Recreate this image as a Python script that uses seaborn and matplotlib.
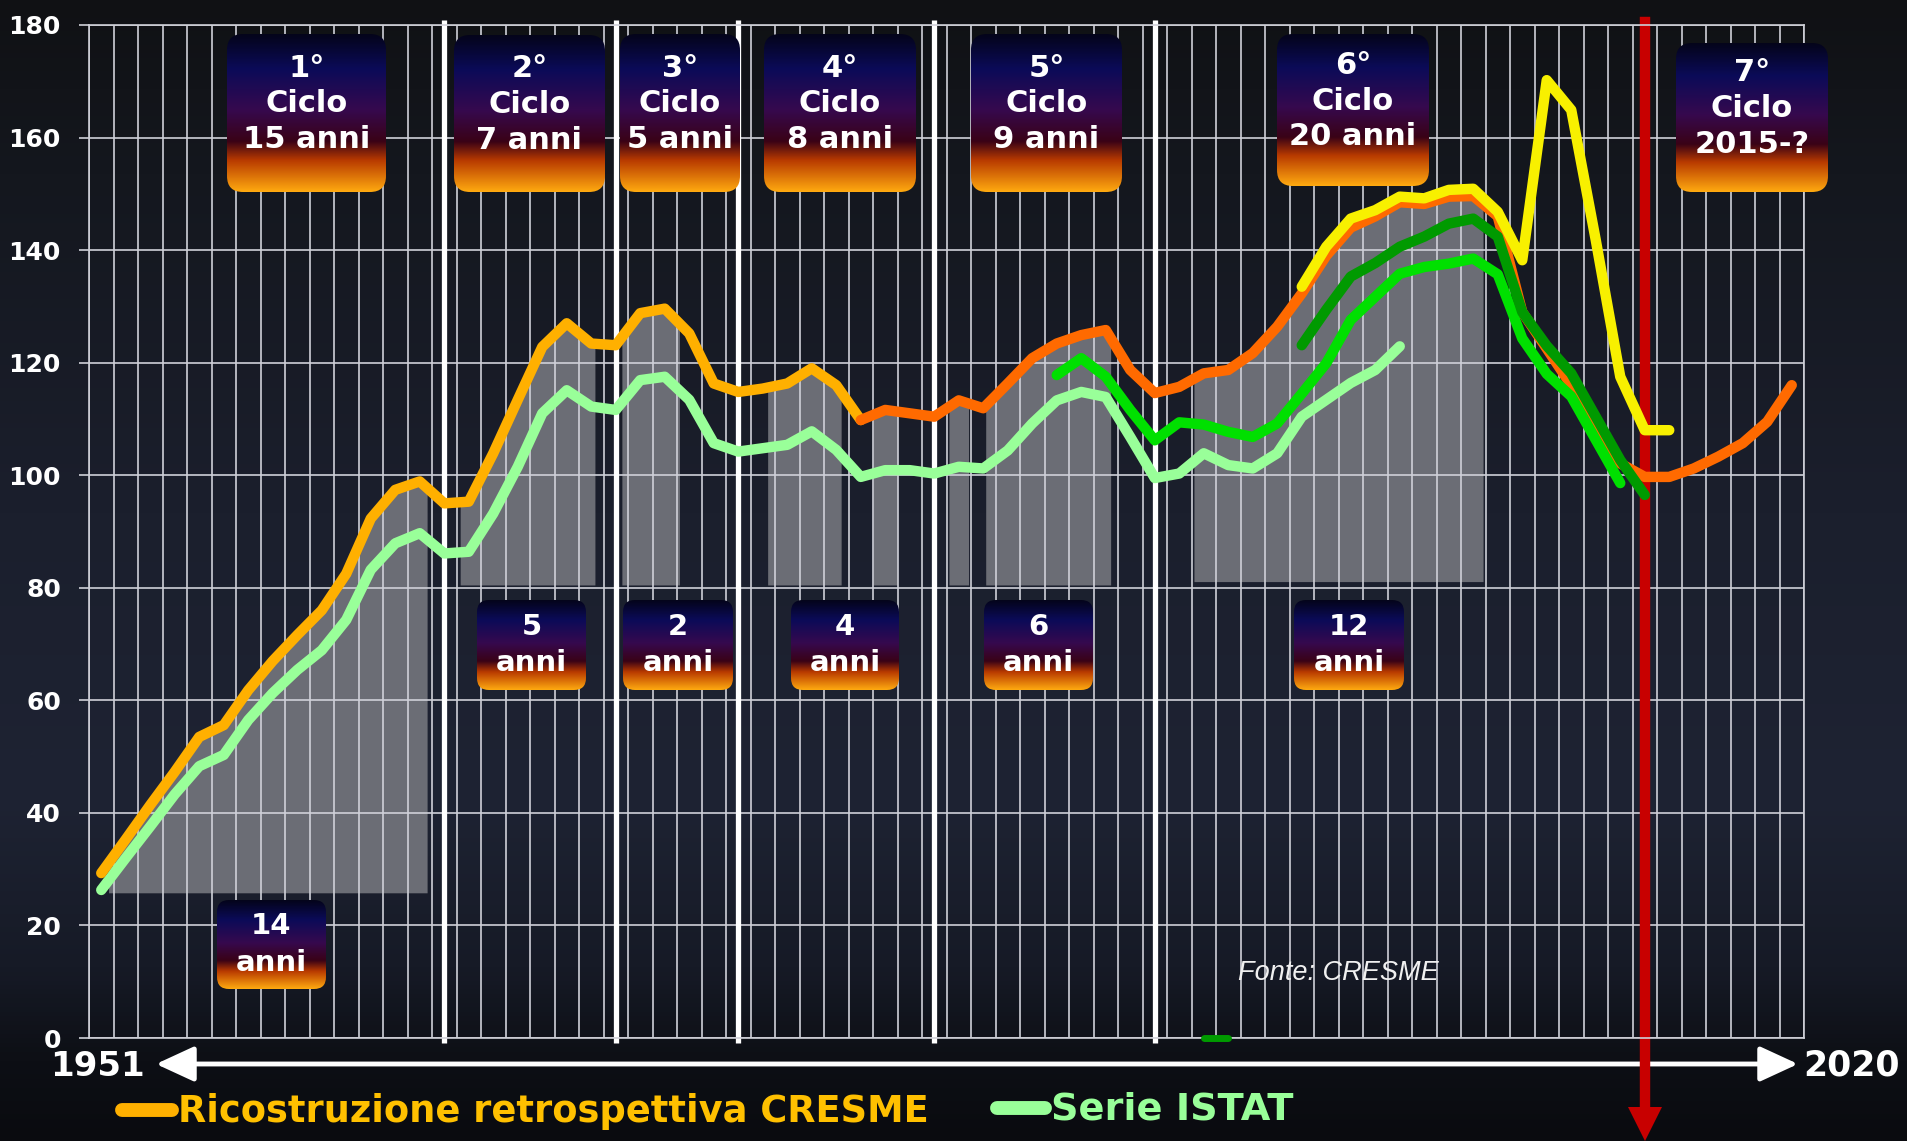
import numpy as np
import matplotlib
matplotlib.use("Agg")
import matplotlib.pyplot as plt
import seaborn as sns
from matplotlib.patches import FancyBboxPatch
from matplotlib.colors import LinearSegmentedColormap

# ==========================================
# Data
# ==========================================

# CRESME retrospective reconstruction, first part (amber)
cresme_years = list(range(1951, 1983))
cresme_vals = [29.3, 35.3, 41.4, 47.3, 53.5, 55.6, 61.8, 67.0, 71.6, 76.0,
               82.5, 92.3, 97.4, 98.9, 95.0, 95.3, 103.9, 113.4, 122.8, 127.0,
               123.4, 123.1, 128.8, 129.6, 125.2, 116.3, 114.8, 115.4, 116.3, 119.0,
               116.0, 109.8]

# CRESME, second part (dark orange)
cresme_new_years = list(range(1982, 2021))
cresme_new_vals = [109.8, 111.6, 111.0, 110.4, 113.3, 111.9, 116.3, 120.8, 123.4, 124.9,
                   125.8, 118.7, 114.6, 115.7, 118.1, 118.7, 121.7, 126.4, 132.3, 139.0,
                   144.0, 146.0, 148.5, 148.2, 149.5, 149.6, 146.0, 129.0, 122.5, 116.0,
                   107.5, 102.1, 99.7, 99.7, 101.2, 103.3, 105.7, 109.5, 116.0]

# CRESME revised (yellow)
cresme_rev_years = list(range(2000, 2016))
cresme_rev_vals = [133.5, 140.6, 145.6, 147.1, 149.5, 149.2, 150.7, 150.9, 146.8, 138.2,
                   170.2, 164.9, 141.8, 117.5, 108.0, 108.0]

# ISTAT series (light green)
istat_years = list(range(1951, 2005))
istat_vals = [26.3, 32.0, 37.6, 43.3, 48.3, 50.3, 56.5, 61.3, 65.4, 68.9,
              74.3, 83.2, 87.9, 89.7, 86.1, 86.4, 93.2, 101.5, 111.0, 115.1,
              112.2, 111.6, 116.9, 117.5, 113.4, 105.7, 104.2, 104.8, 105.4, 107.8,
              104.5, 99.7, 100.9, 100.9, 100.3, 101.5, 101.2, 104.4, 109.2, 113.3,
              114.8, 113.9, 106.8, 99.5, 100.3, 103.9, 101.8, 101.2, 103.9, 110.4,
              113.4, 116.4, 118.7, 122.9]

# ISTAT, newer base (bright green)
istat_b_years = list(range(1990, 2014))
istat_b_vals = [117.8, 120.8, 117.5, 111.6, 106.2, 109.4, 109.0, 107.7, 106.8, 109.2,
                114.5, 119.9, 127.6, 131.7, 135.8, 137.0, 137.6, 138.5, 135.7, 124.3,
                118.0, 114.0, 106.3, 98.6]

# ISTAT, latest base (dark green)
istat_c_years = list(range(2000, 2015))
istat_c_vals = [123.1, 129.4, 135.3, 137.7, 140.6, 142.4, 144.7, 145.6, 142.4, 129.0,
                123.0, 118.1, 110.4, 102.7, 96.5]

# stray dash at zero
stray_years = [1996, 1997]
stray_vals = [0, 0]

# cycles
cycle_bounds = [1965, 1972, 1977, 1985, 1994]
crisis_year = 2014
cycle_labels = ["1°\nCiclo\n15 anni", "2°\nCiclo\n7 anni", "3°\nCiclo\n5 anni",
                "4°\nCiclo\n8 anni", "5°\nCiclo\n9 anni", "6°\nCiclo\n20 anni",
                "7°\nCiclo\n2015-?"]
phase_labels = ["14\nanni", "5\nanni", "2\nanni", "4\nanni", "6\nanni", "12\nanni"]

# shaded growth phases
phase_start = [1951.3, 1965.65, 1972.25, 1978.2, 1982.5, 1985.6, 1987.1, 1995.6]
phase_end = [1964.3, 1971.15, 1974.6, 1981.2, 1983.5, 1986.4, 1992.2, 2007.4]
phase_base = [25.8, 80.5, 80.5, 80.5, 80.5, 80.5, 80.5, 81.1]

# ==========================================
# Layout (pixels of the 1907x1141 image)
# ==========================================
W, H = 1907, 1141
cycle_boxes = [(227, 386, 34, 192), (454, 605, 35, 192), (620, 740, 34, 192),
               (764, 916, 34, 192), (971, 1122, 34, 192), (1277, 1429, 34, 186),
               (1676, 1828, 43, 192)]
phase_boxes = [(217, 326, 900, 989), (477, 586, 600, 690), (623, 733, 600, 690),
               (791, 899, 600, 690), (984, 1093, 600, 690), (1294, 1404, 600, 690)]

fig = plt.figure(figsize=(W / 100, H / 100), dpi=100)

# background gradient
bg = fig.add_axes([0, 0, 1, 1], zorder=-10)
bg_cmap = LinearSegmentedColormap.from_list(
    "bg", [(0, "#101114"), (0.15, "#14171e"), (0.45, "#1b1f2d"), (0.7, "#1e2333"),
           (0.85, "#161a26"), (0.93, "#0d0f15"), (1, "#0a0b0f")])
bg.imshow(np.linspace(0, 1, 256).reshape(-1, 1), cmap=bg_cmap, aspect="auto",
          extent=(0, W, H, 0))
bg.set_xlim(0, W)
bg.set_ylim(H, 0)
bg.axis("off")

# ==========================================
# Main chart
# ==========================================
ax = fig.add_axes([89 / W, (H - 1038) / H, (1804 - 89) / W, (1038 - 25) / H])
ax.set_facecolor("none")
grid_col = "#cfd0d8"

# gray shaded phases under the CRESME curve
top_years = cresme_years[:-1] + cresme_new_years
top_vals = cresme_vals[:-1] + cresme_new_vals
for a, b, base in zip(phase_start, phase_end, phase_base):
    xs = np.concatenate([[a], [y for y in top_years if a < y < b], [b]])
    ys = np.interp(xs, top_years, top_vals)
    ax.fill_between(xs, base, ys, color="#6b6d75", lw=0, zorder=0.3)

# cycle separators
ax.vlines(cycle_bounds, -0.8, 180.8, color="white", lw=3.8, zorder=1, clip_on=False)

# red line + arrow for the current cycle
ax.plot([crisis_year, crisis_year], [180.6, -12], color="#c80000", lw=7.5,
        zorder=1.2, clip_on=False)
ax.plot([crisis_year], [-15.3], marker="v", markersize=24, color="#c80000",
        markeredgewidth=0, zorder=1.2, clip_on=False)

lw = 7.5
def draw(years, vals, color, z):
    sns.lineplot(x=years, y=vals, ax=ax, color=color, linewidth=lw, zorder=z,
                 solid_capstyle="round", solid_joinstyle="round", legend=False)

draw(istat_years, istat_vals, "#99ff99", 2)
draw(cresme_years, cresme_vals, "#ffb000", 3)
draw(cresme_new_years, cresme_new_vals, "#ff6a00", 3)
draw(istat_b_years, istat_b_vals, "#00e000", 4)
draw(istat_c_years, istat_c_vals, "#009a00", 5)
draw(cresme_rev_years, cresme_rev_vals, "#f8f000", 6)
sns.lineplot(x=stray_years, y=stray_vals, ax=ax, color="#009a00", linewidth=5,
             solid_capstyle="round", legend=False, clip_on=False, zorder=5)

ax.set_xlim(1950.5, 2020.5)
ax.set_ylim(0, 180)
ax.set_xticks(np.arange(1950.5, 2021, 1))
ax.set_yticks(np.arange(0, 181, 20))
ax.grid(True, color=grid_col, lw=1.2)
ax.set_axisbelow(True)
ax.tick_params(axis="x", length=0, labelbottom=False)
ax.tick_params(axis="y", length=7.2, width=1.2, color=grid_col, pad=13,
               labelsize=18, labelcolor="white")
for lab in ax.get_yticklabels():
    lab.set_fontweight("bold")
for s in ax.spines.values():
    s.set_color(grid_col)
    s.set_linewidth(1.2)
ax.set_xlabel("")
ax.set_ylabel("")

ax.text(1997.4, 11.5, "Fonte: CRESME", color="#f0f0f0", fontsize=19.5,
        family="Liberation Sans", style="italic", va="center", ha="left", zorder=7)

# time arrow, years and legend (below the red line)
bg.annotate("", xy=(156, 1064), xytext=(1798, 1064),
            arrowprops=dict(arrowstyle="<|-|>,head_length=1.3,head_width=0.6",
                            color="white", lw=3.5, mutation_scale=18,
                            shrinkA=0, shrinkB=0))
bg.text(97, 1067, "1951", color="white", fontsize=24.5, fontweight="bold",
        ha="center", va="center")
bg.text(1851, 1066, "2020", color="white", fontsize=25, fontweight="bold",
        ha="center", va="center")
bg.plot([122, 172], [1110, 1110], color="#ffb000", lw=10, solid_capstyle="round")
bg.text(178, 1111, "Ricostruzione retrospettiva CRESME", color="#ffc000",
        fontsize=26.5, fontweight="bold", ha="left", va="center")
bg.plot([997, 1045], [1108, 1108], color="#99ff99", lw=10, solid_capstyle="round")
bg.text(1051, 1109, "Serie ISTAT", color="#99ff99", fontsize=27.5,
        fontweight="bold", ha="left", va="center")

# ==========================================
# Gradient label boxes
# ==========================================
ov = fig.add_axes([0, 0, 1, 1], zorder=5)
ov.set_facecolor("none")
box_cmap = LinearSegmentedColormap.from_list(
    "box", [(0, "#04041a"), (0.22, "#0b0b58"), (0.48, "#36094e"), (0.68, "#3a0216"),
            (0.8, "#b83a00"), (1, "#ffaa10")])
grad = np.linspace(0, 1, 256).reshape(-1, 1)

def gradient_box(x0, x1, y0, y1, text, dy, rs, fs, ls):
    patch = FancyBboxPatch((x0, y0), x1 - x0, y1 - y0,
                           boxstyle=f"round,pad=0,rounding_size={rs}",
                           facecolor="none", edgecolor="none")
    ov.add_patch(patch)
    im = ov.imshow(grad, extent=(x0, x1, y1, y0), cmap=box_cmap, aspect="auto",
                   interpolation="bilinear", zorder=2)
    im.set_clip_path(patch)
    ov.text((x0 + x1) / 2, (y0 + y1) / 2 + dy, text, color="white", fontsize=fs,
            fontweight="bold", ha="center", va="center", linespacing=ls, zorder=3)

for (x0, x1, y0, y1), t in zip(cycle_boxes, cycle_labels):
    gradient_box(x0, x1, y0, y1, t, -9, 16, 22, 1.3)
for (x0, x1, y0, y1), t in zip(phase_boxes, phase_labels):
    gradient_box(x0, x1, y0, y1, t, 0, 12, 21, 1.4)

ov.set_xlim(0, W)
ov.set_ylim(H, 0)
ov.axis("off")

fig.savefig("out.png", dpi=100)
